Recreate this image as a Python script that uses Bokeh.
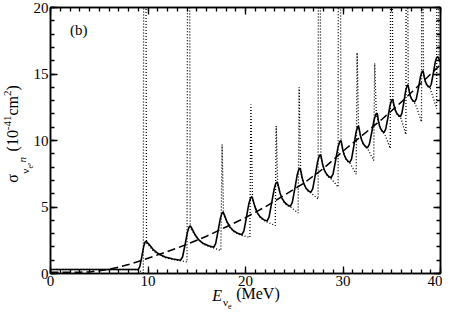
from bokeh.plotting import figure
from bokeh.models import Range1d, LinearAxis, SingleIntervalTicker, FixedTicker, Label
from bokeh.embed import file_html
from bokeh.resources import INLINE

# ---- data ----
# folded cross section (solid)
solid_E = [0.0, 9.0, 9.16, 9.36, 9.56, 9.70, 9.8,
           10.08, 10.51, 11.04, 11.75, 12.57,
           13.35, 13.55, 13.8, 14.05, 14.22, 14.35,
           14.54, 14.83, 15.19, 15.67, 16.22,
           16.75, 16.94, 17.18, 17.42, 17.58, 17.7,
           17.85, 18.09, 18.38, 18.76, 19.21,
           19.63, 19.84, 20.09, 20.35, 20.53, 20.66,
           20.78, 20.97, 21.2, 21.51, 21.86,
           22.2, 22.41, 22.67, 22.94, 23.11, 23.25,
           23.36, 23.52, 23.72, 23.99, 24.30,
           24.6, 24.8, 25.05, 25.3, 25.47, 25.6,
           25.69, 25.82, 25.99, 26.21, 26.46,
           26.7, 26.9, 27.15, 27.4, 27.57, 27.7,
           27.79, 27.91, 28.07, 28.29, 28.53,
           28.77, 28.98, 29.23, 29.49, 29.67, 29.8,
           29.87, 29.98, 30.12, 30.3, 30.5,
           30.7, 30.88, 31.11, 31.33, 31.48, 31.6,
           31.67, 31.78, 31.92, 32.1, 32.3,
           32.5, 32.7, 32.95, 33.2, 33.37, 33.5,
           33.56, 33.64, 33.75, 33.89, 34.05,
           34.2, 34.38, 34.61, 34.83, 34.98, 35.1,
           35.16, 35.26, 35.37, 35.53, 35.71,
           35.88, 36.04, 36.24, 36.43, 36.57, 36.67,
           36.72, 36.81, 36.91, 37.04, 37.2,
           37.35, 37.52, 37.74, 37.95, 38.1, 38.21,
           38.26, 38.35, 38.45, 38.58, 38.74,
           38.89, 39.05, 39.26, 39.46, 39.6, 39.71,
           39.8, 40.0]
solid_sigma = [0.3, 0.3, 0.51, 1.25, 2.04, 2.36, 2.42,
               2.21, 1.82, 1.50, 1.24, 1.09,
               1.0, 1.26, 2.16, 3.12, 3.50, 3.58,
               3.34, 2.91, 2.54, 2.25, 2.08,
               1.98, 2.24, 3.17, 4.14, 4.54, 4.62,
               4.37, 3.91, 3.52, 3.21, 3.02,
               2.92, 3.21, 4.21, 5.27, 5.69, 5.78,
               5.50, 5.01, 4.58, 4.25, 4.05,
               3.94, 4.23, 5.26, 6.35, 6.79, 6.88,
               6.61, 6.11, 5.69, 5.36, 5.16,
               5.05, 5.34, 6.34, 7.40, 7.83, 7.92,
               7.65, 7.16, 6.74, 6.41, 6.21,
               6.1, 6.38, 7.38, 8.43, 8.85, 8.94,
               8.68, 8.21, 7.81, 7.50, 7.30,
               7.2, 7.48, 8.46, 9.50, 9.92, 10.0,
               9.75, 9.31, 8.93, 8.63, 8.45,
               8.35, 8.62, 9.58, 10.59, 11.0, 11.08,
               10.84, 10.40, 10.02, 9.73, 9.55,
               9.45, 9.71, 10.62, 11.58, 11.97, 12.05,
               11.83, 11.44, 11.11, 10.85, 10.69,
               10.6, 10.85, 11.73, 12.65, 13.03, 13.1,
               12.91, 12.55, 12.26, 12.02, 11.88,
               11.8, 12.04, 12.87, 13.75, 14.11, 14.18,
               13.99, 13.64, 13.35, 13.12, 12.98,
               12.9, 13.13, 13.95, 14.82, 15.17, 15.24,
               15.05, 14.72, 14.43, 14.21, 14.07,
               14.0, 14.23, 15.04, 15.89, 16.23, 16.3,
               16.2, 15.9]

# unfolded cross section with threshold spikes (dotted)
dotted_E = [0.0, 8.9, 9.3, 9.52,
            9.55, 9.8, 9.85,
            10.1, 10.5, 11.0, 11.75, 12.6, 13.4, 14.0,
            14.05, 14.28, 14.33,
            14.55, 14.85, 15.2, 15.7, 16.25, 16.8, 17.47,
            17.6, 17.75,
            18.1, 18.4, 18.8, 19.25, 19.7, 20.45,
            20.55, 20.72,
            21.0, 21.25, 21.55, 21.9, 22.3, 23.05,
            23.15, 23.3,
            23.55, 23.75, 24.0, 24.3, 24.7, 25.4,
            25.5, 25.65,
            25.85, 26.0, 26.25, 26.5, 26.8, 27.45,
            27.47, 27.68, 27.73,
            27.93, 28.1, 28.3, 28.55, 28.85, 29.5,
            29.52, 29.75, 29.8,
            30.0, 30.15, 30.32, 30.52, 30.75, 31.35,
            31.45, 31.6,
            31.8, 31.95, 32.12, 32.32, 32.55, 33.15,
            33.25, 33.42,
            33.65, 33.77, 33.9, 34.07, 34.3, 34.85,
            34.87, 35.07, 35.12,
            35.27, 35.4, 35.55, 35.73, 35.95, 36.45,
            36.47, 36.65, 36.7,
            36.82, 36.93, 37.06, 37.22, 37.42, 38.05,
            38.07, 38.22, 38.26,
            38.36, 38.47, 38.6, 38.77, 38.95, 39.6,
            39.62, 39.8, 39.85, 40.0]
dotted_sigma = [0.3, 0.3, 0.15, 0.05,
                20, 20, 2.3,
                2.1, 1.75, 1.45, 1.2, 1.05, 0.95, 0.87,
                20, 20, 3.4,
                3.2, 2.85, 2.5, 2.2, 2.02, 1.9, 1.73,
                9.7, 4.45,
                3.85, 3.47, 3.15, 2.95, 2.85, 2.7,
                12.7, 5.6,
                4.95, 4.5, 4.18, 3.98, 3.85, 3.6,
                11.1, 6.7,
                6.05, 5.62, 5.3, 5.1, 4.95, 4.55,
                14.0, 7.7,
                7.1, 6.68, 6.35, 6.14, 6.0, 5.6,
                20, 20, 8.7,
                8.15, 7.75, 7.44, 7.24, 7.08, 6.5,
                20, 20, 9.8,
                9.25, 8.87, 8.57, 8.38, 8.25, 7.46,
                16.6, 10.9,
                10.33, 9.96, 9.67, 9.49, 9.35, 8.5,
                15.8, 11.9,
                11.38, 11.05, 10.8, 10.63, 10.45, 9.4,
                20, 20, 12.9,
                12.5, 12.2, 11.96, 11.82, 11.65, 10.45,
                20, 20, 14.0,
                13.6, 13.3, 13.06, 12.92, 12.75, 11.4,
                20, 20, 15.0,
                14.68, 14.38, 14.15, 14.0, 13.9, 12.4,
                20, 20, 16.0, 15.7]

# smooth average (dashed)
dashed_E = [0, 1, 2, 3, 4, 5, 6, 7, 8, 9, 10, 11, 12, 13, 14, 16, 18, 20,
            22, 24, 26, 28, 30, 32, 34, 36, 38, 40]
dashed_sigma = [0.1, 0.1, 0.1, 0.1, 0.12, 0.2, 0.32, 0.48, 0.68, 0.9, 1.15,
                1.4, 1.65, 1.92, 2.2, 2.8, 3.5, 4.2, 5.0, 5.9, 6.8, 7.9, 9.2,
                10.4, 11.6, 12.9, 14.3, 15.7]

x_tick_interval = 10
y_tick_interval = 5
panel_tag = "(b)"

FONT = "Liberation Serif"

p = figure(width=442, height=311, x_range=Range1d(0, 40), y_range=Range1d(0, 20),
           output_backend="svg", toolbar_location=None,
           min_border_left=50, min_border_right=2, min_border_top=7,
           min_border_bottom=37)
p.background_fill_color = "white"
p.border_fill_color = "white"
p.outline_line_color = "black"
p.outline_line_width = 1.5
p.xgrid.visible = False
p.ygrid.visible = False

p.line(dotted_E, dotted_sigma, line_color="black", line_width=1.3, line_dash="1 2")
p.line(dashed_E, dashed_sigma, line_color="black", line_width=1.5, line_dash="8 4")
p.line(solid_E, solid_sigma, line_color="black", line_width=1.6)

xt = SingleIntervalTicker(interval=x_tick_interval, num_minor_ticks=10)
yt = SingleIntervalTicker(interval=y_tick_interval, num_minor_ticks=5)

p.add_layout(LinearAxis(ticker=xt), "above")
p.add_layout(LinearAxis(ticker=yt), "right")
p.below[0].ticker = xt
p.left[0].ticker = yt

for ax in [p.below[0], p.left[0], p.above[0], p.right[0]]:
    ax.axis_line_color = "black"
    ax.axis_line_width = 1.5
    ax.major_tick_line_color = "black"
    ax.minor_tick_line_color = "black"
    ax.major_tick_line_width = 1.3
    ax.minor_tick_line_width = 1.3
    ax.major_tick_in = 7
    ax.major_tick_out = 0
    ax.minor_tick_in = 4
    ax.minor_tick_out = 0
    ax.major_label_text_font = FONT
    ax.major_label_text_color = "black"
    ax.major_label_text_font_size = "15px"

p.below[0].major_label_standoff = 2
p.left[0].major_label_standoff = 2
for ax in [p.above[0], p.right[0]]:
    ax.major_label_text_color = None
    ax.major_label_text_font_size = "1px"
    ax.major_label_standoff = 0


def text_axis(side, ticks, texts, size, standoff, italic=False):
    ax = LinearAxis(ticker=FixedTicker(ticks=ticks, minor_ticks=[]),
                    major_label_overrides=dict(zip(ticks, texts)),
                    axis_line_color=None, major_tick_line_color=None,
                    minor_tick_line_color=None,
                    major_tick_in=0, major_tick_out=0,
                    minor_tick_in=0, minor_tick_out=0,
                    major_label_standoff=standoff,
                    major_label_text_font=FONT,
                    major_label_text_font_size=f"{size}px",
                    major_label_text_font_style="italic" if italic else "normal",
                    major_label_text_color="black")
    if side == "left":
        ax.major_label_orientation = "vertical"
    p.add_layout(ax, side)


# y axis title: sigma_{nu_e,n} (10^-41 cm^2), pieces placed along the axis
text_axis("left", [8.02], ["e"], 8, -3)
text_axis("left", [7.68, 8.25], ["ν", ","], 11, -7)
text_axis("left", [8.56], ["n"], 11, -12, italic=True)
text_axis("left", [7.15, 9.98, 12.61, 13.96], ["σ", "(10", "cm", ")"], 16, -8)
text_axis("left", [11.33, 13.55], ["-41", "2"], 11, -10)

# x axis title: E_{nu_e} (MeV)
text_axis("below", [21.28], ["(MeV)"], 16, -4)
text_axis("below", [17.1], ["E"], 16, -18, italic=True)
text_axis("below", [17.95], ["ν"], 11, -11)
text_axis("below", [18.38], ["e"], 8, -8)

# panel tag
p.add_layout(Label(x=2.0, y=18.3, text=panel_tag, text_font=FONT,
                   text_font_size="15px", text_color="black",
                   text_baseline="alphabetic", text_align="left"))

open("out.html", "w").write(file_html(p, INLINE))
